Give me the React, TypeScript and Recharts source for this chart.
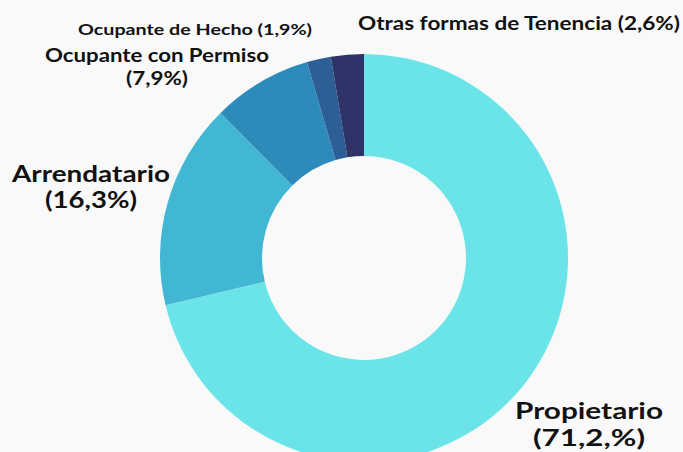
import React from 'react';
import { PieChart, Pie, Cell } from 'recharts';

const categories = ['Propietario', 'Arrendatario', 'Ocupante con Permiso', 'Ocupante de Hecho', 'Otras formas de Tenencia'];
const shares = [71.2, 16.3, 7.9, 1.9, 2.6];
const labelLines: string[][] = [
  ['Propietario', '(71,2,%)'],
  ['Arrendatario', '(16,3%)'],
  ['Ocupante con Permiso', '(7,9%)'],
  ['Ocupante de Hecho  (1,9%)'],
  ['Otras formas de Tenencia (2,6%)'],
];
const colors = ['#6AE4E8', '#42B7D4', '#2C8BBA', '#2D5E96', '#2F3468'];

// label layout: center x, first baseline, line gap, font size, widths per line
const labelLayout = [
  { x: 589, y: 419, gap: 27, size: 23, widths: [148, 112] },
  { x: 91, y: 182, gap: 26, size: 23, widths: [158, 92] },
  { x: 157, y: 62, gap: 23, size: 19, widths: [224, 62] },
  { x: 195, y: 35, gap: 0, size: 16, widths: [234] },
  { x: 519, y: 30, gap: 0, size: 19, widths: [322] },
];

const data = categories.map((name, i) => ({ name, value: shares[i] }));

const renderLabel = (props: any) => {
  const i = props.index;
  const l = labelLayout[i];
  return (
    <g key={`lbl-${i}`}>
      {labelLines[i].map((line, j) => (
        <text
          key={j}
          x={l.x}
          y={l.y + j * l.gap}
          textAnchor="middle"
          fill="#111"
          fontFamily="Lato, 'Noto Sans', sans-serif"
          fontWeight={700}
          fontSize={l.size}
          textLength={l.widths[j]}
          lengthAdjust="spacingAndGlyphs"
        >
          {line}
        </text>
      ))}
    </g>
  );
};

export default function App() {
  return (
    <div style={{ position: 'absolute', left: 0, top: 0, width: 683, height: 452, background: '#F9F9F9' }}>
      <PieChart width={683} height={452} margin={{ top: 0, right: 0, bottom: 0, left: 0 }}>
        <Pie
          data={data}
          dataKey="value"
          nameKey="name"
          cx={364}
          cy={258}
          innerRadius={102}
          outerRadius={204}
          startAngle={90}
          endAngle={-270}
          stroke="none"
          label={renderLabel}
          labelLine={false}
          isAnimationActive={false}
        >
          {data.map((d, i) => (
            <Cell key={d.name} fill={colors[i]} />
          ))}
        </Pie>
      </PieChart>
    </div>
  );
}
